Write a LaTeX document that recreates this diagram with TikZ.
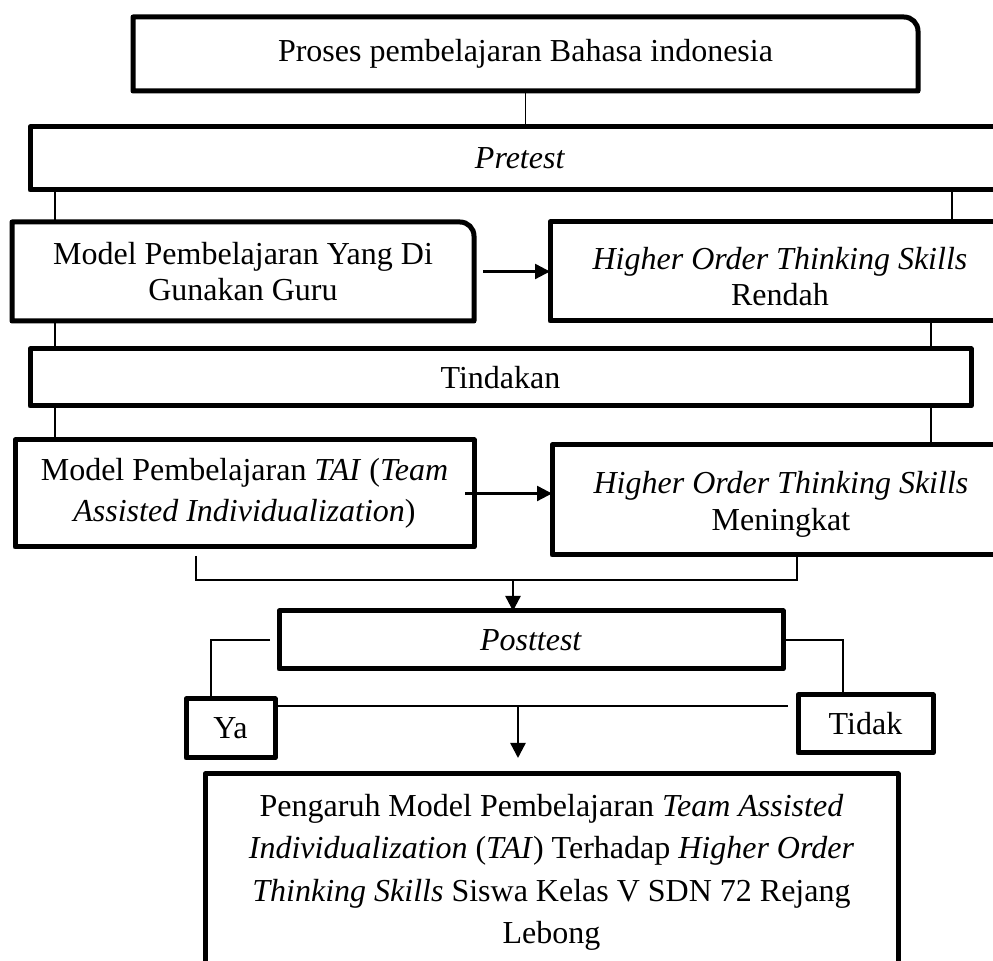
\documentclass[tikz,border=0pt]{standalone}
\usepackage{fontspec}
\setmainfont{Liberation Serif}
\usetikzlibrary{positioning,calc,arrows.meta}

\begin{document}
\begin{tikzpicture}[x=0.5pt,y=-0.5pt,
  box/.style={draw=black, line width=2.5pt, line join=round, align=center, inner sep=0pt, outer sep=0pt,
    font=\fontsize{16}{20.5}\selectfont},
  plainbox/.style={box, draw=none},
  tight/.style={font=\fontsize{16}{18.2}\selectfont},
  link/.style={black, line width=0.8pt},
  arrowline/.style={black, line width=1.2pt, -{Triangle[length=7.5pt,width=7.5pt]}}]
\useasboundingbox (0,0) rectangle (993,961);
\clip (0,0) rectangle (993,961);

\node[plainbox, minimum width=392.5pt, minimum height=37pt] (proses) at (525.5,54) {Proses pembelajaran Bahasa indonesia};
\draw[box] (proses.south west) -- (proses.north west) -- ([xshift=-7pt]proses.north east)
  arc[start angle=90, end angle=0, radius=7pt] -- (proses.south east) -- cycle;
\node[box, minimum width=490pt, minimum height=31.5pt] (pretest) at (520,158.5) {\textit{Pretest}};

\node[plainbox, tight, minimum width=231pt, minimum height=49.5pt] (guru) at (243,271.5) {Model Pembelajaran Yang Di\\Gunakan Guru};
\draw[box] (guru.south west) -- (guru.north west) -- ([xshift=-7pt]guru.north east)
  arc[start angle=90, end angle=0, radius=7pt] -- (guru.south east) -- cycle;
\node[box, tight, minimum width=230pt, minimum height=49.5pt, text height=34.5pt] (rendah) at (780,271.5) {\textit{Higher Order Thinking Skills}\\Rendah};

\node[box, minimum width=470.5pt, minimum height=28.5pt] (tindakan) at (500.5,377.5) {Tindakan};

\node[box, minimum width=229.5pt, minimum height=53.5pt] (tai) at (244.5,493.5) {Model Pembelajaran \textit{TAI} (\textit{Team}\\\textit{Assisted Individualization})};
\node[box, tight, minimum width=229pt, minimum height=55pt, text height=33.5pt] (meningkat) at (781,500) {\textit{Higher Order Thinking Skills}\\Meningkat};

\node[box, minimum width=252pt, minimum height=29pt] (posttest) at (531,640) {\textit{Posttest}};
\node[box, minimum width=44.5pt, minimum height=29.5pt] (ya) at (230.5,728.5) {Ya};
\node[box, minimum width=67.5pt, minimum height=29pt] (tidak) at (865.5,724) {Tidak};

\node[box, font=\fontsize{16}{21.3}\selectfont, anchor=north, minimum width=346.5pt, inner ysep=10pt, text depth=45pt] (hasil) at (551.5,774)
  {Pengaruh Model Pembelajaran \textit{Team Assisted}\\
   \textit{Individualization} (\textit{TAI}) Terhadap \textit{Higher Order}\\
   \textit{Thinking Skills} Siswa Kelas V SDN 72 Rejang\\
   Lebong};

% columns of the side links
\coordinate (colL) at (55,0);
\coordinate (colA) at (952,0);
\coordinate (colB) at (931,0);
\coordinate (joinL) at (196,580);
\coordinate (joinR) at (797,580);
\coordinate (joinM) at (513,580);
\coordinate (ptL) at (211,638);
\coordinate (ptR) at (843,638);
\coordinate (yt) at (518,706);

\draw[link] (proses.south) -- (proses.south |- pretest.north);
\draw[link] (pretest.south -| colL) -- (guru.north -| colL);
\draw[link] (pretest.south -| colA) -- (rendah.north -| colA);
\draw[link] (guru.south -| colL) -- (tindakan.north -| colL);
\draw[link] (rendah.south -| colB) -- (tindakan.north -| colB);
\draw[link] (tindakan.south -| colL) -- (tai.north -| colL);
\draw[link] (tindakan.south -| colB) -- (meningkat.north -| colB);

\draw[arrowline] ([xshift=4.5pt]guru.east) -- (rendah.west |- guru.east);
\draw[arrowline] ([xshift=-4.5pt]tai.east) -- (meningkat.west |- tai.east);

\draw[link] ([yshift=-4.5pt]tai.south -| joinL) -- (joinL) -- (joinR) -- (meningkat.south -| joinR);
\draw[arrowline] (joinM) -- (posttest.north -| joinM);

\draw[link] ([xshift=-4.5pt]posttest.west) -- (posttest.west -| ptL) -- (ya.north -| ptL);
\draw[link] (posttest.east) -- (posttest.east -| ptR) -- (tidak.north -| ptR);
\draw[link] (ya.east |- yt) -- ([xshift=-5pt]tidak.west |- yt);
\draw[arrowline, shorten >=8pt] (yt) -- (hasil.north -| yt);
\end{tikzpicture}
\end{document}
